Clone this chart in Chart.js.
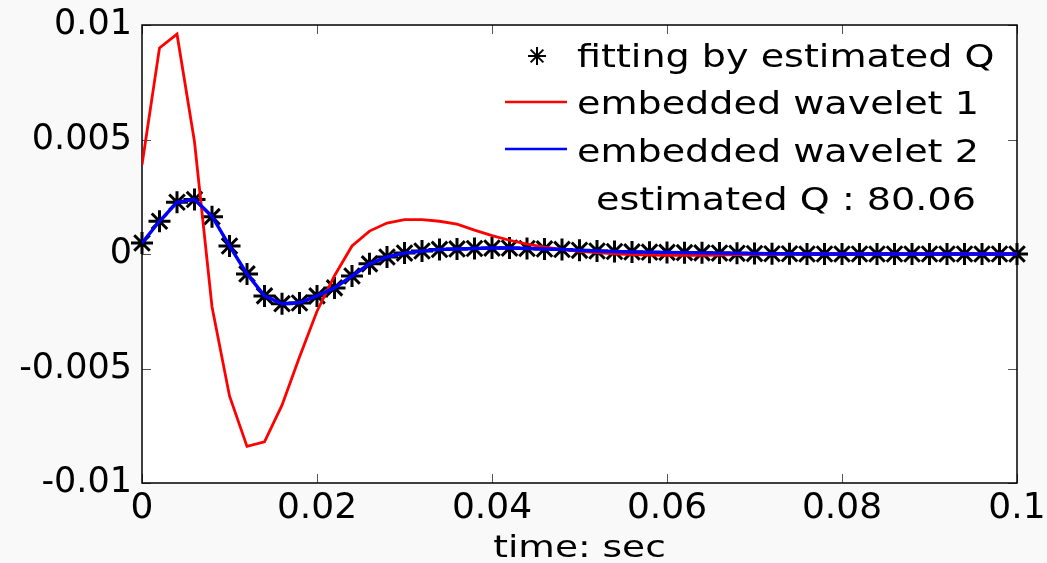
<!DOCTYPE html>
<html>
<head>
<meta charset="utf-8">
<script src="https://cdn.jsdelivr.net/npm/chart.js@4"></script>
<style>
html, body { margin: 0; padding: 0; background: #f9f9f9; }
#wrap { width: 1047px; height: 563px; }
</style>
</head>
<body>
<div id="wrap"><canvas id="chart" width="1047" height="563"></canvas></div>
<script>
// time axis (sec), one sample every 2 ms
const timeSec = [0, 0.002, 0.004, 0.006, 0.008, 0.01, 0.012, 0.014, 0.016, 0.018,
  0.02, 0.022, 0.024, 0.026, 0.028, 0.03, 0.032, 0.034, 0.036, 0.038,
  0.04, 0.042, 0.044, 0.046, 0.048, 0.05, 0.052, 0.054, 0.056, 0.058,
  0.06, 0.062, 0.064, 0.066, 0.068, 0.07, 0.072, 0.074, 0.076, 0.078,
  0.08, 0.082, 0.084, 0.086, 0.088, 0.09, 0.092, 0.094, 0.096, 0.098, 0.1];

const fittingQ = [0.00048, 0.00143, 0.00226, 0.00238, 0.00163, 0.00035, -0.00087, -0.00183, -0.00217, -0.00214,
  -0.00183, -0.00148, -0.00096, -0.00043, -0.00013, 0.00004, 0.00013, 0.0002, 0.00022, 0.00024,
  0.00026, 0.00026, 0.00024, 0.00022, 0.0002, 0.00016, 0.00013, 0.00011, 0.00009, 0.00008,
  0.00007, 0.00006, 0.00005, 0.00004, 0.00003, 0.00002, 0.00001, 0.00001, 0, 0,
  0, 0, 0, 0, 0, 0, 0, 0, 0, 0, 0];

const wavelet1 = [0.0039, 0.009, 0.0096, 0.0049, -0.0023, -0.0062, -0.0084, -0.0082, -0.0066, -0.0045,
  -0.0025, -0.00095, 0.00035, 0.001, 0.00135, 0.0015, 0.0015, 0.00143, 0.0013, 0.00104,
  0.0008, 0.0006, 0.00043, 0.0003, 0.0002, 0.00012, 0.00006, 0.00001, -0.00003, -0.00005,
  -0.00006, -0.00006, -0.00006, -0.00005, -0.00003, -0.00002, -0.00001, 0, 0, 0,
  0, 0, 0, 0, 0, 0, 0, 0, 0, 0, 0];

const wavelet2 = [0.00048, 0.00143, 0.00226, 0.00239, 0.00165, 0.00035, -0.00087, -0.00183, -0.00217, -0.00213,
  -0.00183, -0.00148, -0.00096, -0.00043, -0.00013, 0.00004, 0.00013, 0.0002, 0.00022, 0.00024,
  0.00026, 0.00026, 0.00024, 0.00022, 0.0002, 0.00016, 0.00013, 0.00011, 0.00009, 0.00008,
  0.00007, 0.00006, 0.00005, 0.00004, 0.00003, 0.00002, 0.00001, 0.00001, 0, 0,
  0, 0, 0, 0, 0, 0, 0, 0, 0, 0, 0];

const xTickValues = [0, 0.02, 0.04, 0.06, 0.08, 0.1];
const xTickLabels = ["0", "0.02", "0.04", "0.06", "0.08", "0.1"];
const yTickValues = [-0.01, -0.005, 0, 0.005, 0.01];
const yTickLabels = ["-0.01", "-0.005", "0", "0.005", "0.01"];
const legendLabels = ["fitting by estimated Q", "embedded wavelet 1", "embedded wavelet 2"];
const qNote = "estimated Q : 80.06";
const xTitle = "time: sec";

const FONT = '"DejaVu Sans", "Liberation Sans", sans-serif';

function pts(ys) {
  return timeSec.map((t, i) => ({ x: t, y: ys[i] }));
}

// text drawn a bit wider than the font, like the original figure
function wideText(ctx, text, x, y, size, sx, align) {
  ctx.save();
  ctx.font = size + "px " + FONT;
  ctx.fillStyle = "#000";
  ctx.textBaseline = "alphabetic";
  ctx.textAlign = "left";
  let w = ctx.measureText(text).width * sx;
  let x0 = align === "center" ? x - w / 2 : x;
  ctx.translate(x0, y);
  ctx.scale(sx, 1);
  ctx.fillText(text, 0, 0);
  ctx.restore();
}

const framePlugin = {
  id: "frame",
  beforeDraw(chart) {
    const { ctx, chartArea: a } = chart;
    ctx.save();
    ctx.fillStyle = "#fff";
    ctx.fillRect(a.left, a.top, a.right - a.left, a.bottom - a.top);
    ctx.restore();
  },
  beforeDatasetsDraw(chart) {
    const { ctx, chartArea: a, scales } = chart;
    ctx.save();
    ctx.strokeStyle = "#555";
    ctx.lineWidth = 1;
    ctx.beginPath();
    xTickValues.forEach(v => {
      const px = Math.round(scales.x.getPixelForValue(v)) + 0.5;
      ctx.moveTo(px, a.bottom); ctx.lineTo(px, a.bottom - 9);
      ctx.moveTo(px, a.top); ctx.lineTo(px, a.top + 9);
    });
    yTickValues.forEach(v => {
      const py = Math.round(scales.y.getPixelForValue(v)) + 0.5;
      ctx.moveTo(a.left, py); ctx.lineTo(a.left + 9, py);
      ctx.moveTo(a.right, py); ctx.lineTo(a.right - 9, py);
    });
    ctx.stroke();
    ctx.strokeStyle = "#000";
    ctx.lineWidth = 1.5;
    ctx.strokeRect(a.left, a.top, a.right - a.left, a.bottom - a.top);
    ctx.restore();
  },
  afterDraw(chart) {
    const { ctx, chartArea: a } = chart;
    // legend
    ctx.save();
    ctx.strokeStyle = "#000";
    ctx.lineWidth = 2;
    Chart.helpers.drawPoint(ctx, { pointStyle: "star", radius: 9, borderWidth: 2, rotation: 0 }, 537, 56);
    ctx.lineWidth = 2.5;
    ctx.strokeStyle = "#ff0000";
    ctx.beginPath(); ctx.moveTo(505, 102); ctx.lineTo(567, 102); ctx.stroke();
    ctx.strokeStyle = "#0000ff";
    ctx.beginPath(); ctx.moveTo(505, 149); ctx.lineTo(567, 149); ctx.stroke();
    ctx.restore();
    wideText(ctx, legendLabels[0], 577, 67, 32, 1.19);
    wideText(ctx, legendLabels[1], 577, 114, 32, 1.19);
    wideText(ctx, legendLabels[2], 577, 162, 32, 1.19);
    wideText(ctx, qNote, 596, 210, 32, 1.19);
    // x axis title
    wideText(ctx, xTitle, (a.left + a.right) / 2, 557, 30, 1.25, "center");
  }
};

new Chart(document.getElementById("chart"), {
  type: "line",
  data: {
    datasets: [
      {
        label: legendLabels[0],
        data: pts(fittingQ),
        showLine: false,
        pointStyle: "star",
        pointRadius: 11,
        pointBorderWidth: 3,
        pointBorderColor: "#000",
        pointBackgroundColor: "#000",
        clip: false,
        order: 3
      },
      {
        label: legendLabels[1],
        data: pts(wavelet1),
        borderColor: "#ff0000",
        borderWidth: 2.8,
        pointRadius: 0,
        tension: 0,
        order: 2
      },
      {
        label: legendLabels[2],
        data: pts(wavelet2),
        borderColor: "#0000ff",
        borderWidth: 3.4,
        pointRadius: 0,
        tension: 0,
        order: 1
      }
    ]
  },
  options: {
    responsive: false,
    animation: false,
    devicePixelRatio: 1,
    layout: { padding: { top: 25, right: 30, left: 0, bottom: 0 } },
    plugins: { legend: { display: false }, tooltip: { enabled: false } },
    scales: {
      x: {
        type: "linear",
        min: 0,
        max: 0.1,
        grid: { display: false },
        border: { display: false },
        afterBuildTicks: s => { s.ticks = xTickValues.map(v => ({ value: v })); },
        afterFit: s => { s.height = 80; },
        ticks: {
          autoSkip: false,
          maxRotation: 0,
          padding: -4,
          color: "#000",
          font: { family: FONT, size: 36 },
          callback: (v, i) => xTickLabels[i]
        }
      },
      y: {
        type: "linear",
        min: -0.01,
        max: 0.01,
        grid: { display: false },
        border: { display: false },
        afterBuildTicks: s => { s.ticks = yTickValues.map(v => ({ value: v })); },
        afterFit: s => { s.width = 142; },
        ticks: {
          autoSkip: false,
          padding: 2,
          color: "#000",
          font: { family: FONT, size: 35 },
          callback: (v, i) => yTickLabels[i]
        }
      }
    }
  },
  plugins: [framePlugin]
});
</script>
</body>
</html>
